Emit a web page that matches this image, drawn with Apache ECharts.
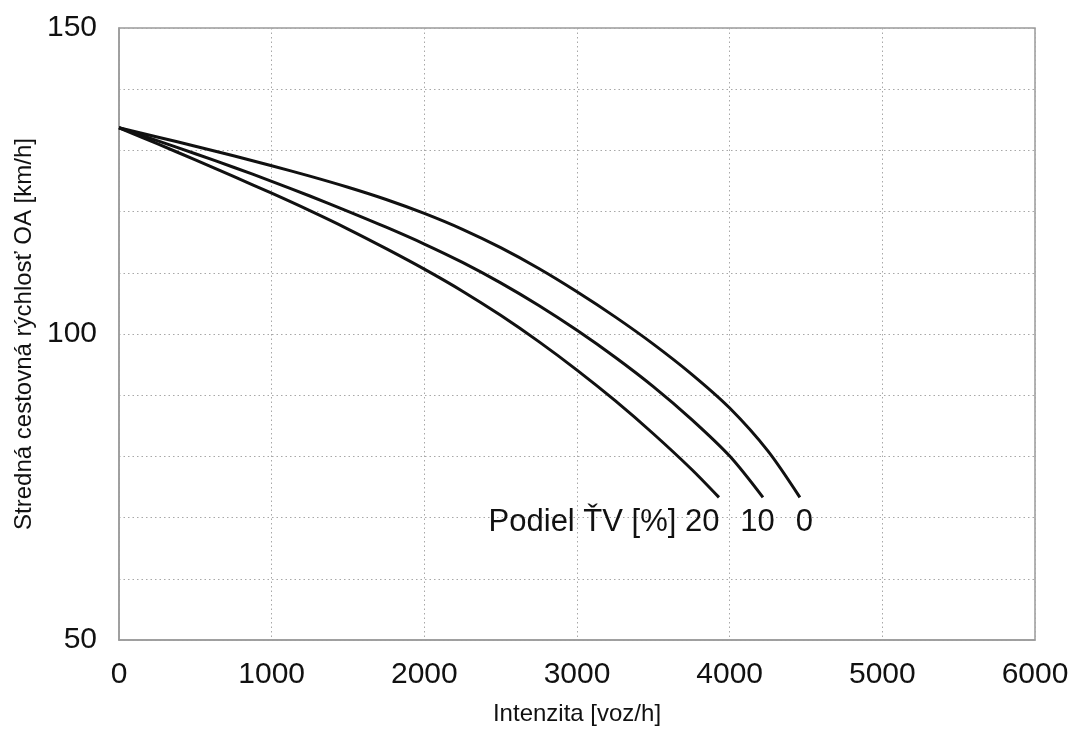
<!DOCTYPE html>
<html>
<head>
<meta charset="utf-8">
<script src="https://cdn.jsdelivr.net/npm/echarts@6.0.0/dist/echarts.min.js"></script>
<style>
html,body{margin:0;padding:0;background:#fff;}
#chart{width:1076px;height:731px;}
</style>
</head>
<body>
<div id="chart"></div>
<script>
// Data
var xTicks = [0, 1000, 2000, 3000, 4000, 5000, 6000];
var yTickLabels = [50, 100, 150];
var seriesNames = ['0', '10', '20'];
var curve0 = [[0,133.7],[250,132.2],[500,130.68],[750,129.12],[1000,127.5],[1250,125.8],[1500,123.98],[1750,121.98],[2000,119.7],[2250,117.1],[2500,114.1],[2750,110.7],[3000,106.9],[3250,102.8],[3500,98.35],[3750,93.45],[4000,87.9],[4250,80.9],[4460,73.3]];
var curve10 = [[0,133.7],[250,131.6],[500,129.45],[750,127.25],[1000,124.95],[1250,122.55],[1500,120.05],[1750,117.45],[2000,114.7],[2250,111.7],[2500,108.35],[2750,104.65],[3000,100.6],[3250,96.2],[3500,91.4],[3750,86.05],[4000,80.05],[4218,73.3]];
var curve20 = [[0,133.7],[250,131.1],[500,128.45],[750,125.75],[1000,123.0],[1250,120.15],[1500,117.15],[1750,113.95],[2000,110.6],[2250,107.0],[2500,103.05],[2750,98.75],[3000,94.1],[3250,89.1],[3500,83.7],[3750,77.9],[3930,73.3]];
var endLabels = ['0', '10', 'Podiel ŤV [%] 20'];

var FONT = '"Liberation Sans", Arial, Helvetica, sans-serif';
var chart = echarts.init(document.getElementById('chart'), null, {renderer: 'canvas'});

function withEndLabel(data, text, align, dx) {
  return data.map(function (p, i) {
    if (i !== data.length - 1) return p;
    return {
      value: p,
      label: {
        show: true,
        formatter: text,
        position: [dx, 10],
        align: align,
        verticalAlign: 'top',
        fontSize: 31,
        fontFamily: FONT,
        color: '#111',
        opacity: 1
      }
    };
  });
}

function lineSeries(name, data, text, align, dx) {
  return {
    name: name,
    type: 'line',
    data: withEndLabel(data, text, align, dx),
    smooth: 0.3,
    symbol: 'circle',
    symbolSize: 1,
    showSymbol: true,
    itemStyle: {color: 'rgba(0,0,0,0)', borderWidth: 0},
    lineStyle: {color: '#111', width: 3},
    emphasis: {disabled: true},
    animation: false,
    z: 3
  };
}

chart.setOption({
  animation: false,
  backgroundColor: '#ffffff',
  grid: {
    left: 119, right: 41, top: 28, bottom: 90,
    show: true, borderColor: '#9a9a9a', borderWidth: 1.5, backgroundColor: 'transparent'
  },
  xAxis: {
    type: 'value',
    min: 0, max: 6000, interval: 1000,
    name: 'Intenzita [voz/h]',
    nameLocation: 'middle',
    nameGap: 62,
    nameTextStyle: {fontSize: 24, fontFamily: FONT, color: '#111'},
    axisLine: {show: true, lineStyle: {color: '#9a9a9a', width: 1.5}},
    axisTick: {show: false},
    axisLabel: {
      margin: 20, fontSize: 30, fontFamily: FONT, color: '#111',
      formatter: function (v) { return xTicks.indexOf(v) >= 0 ? String(v) : ''; }
    },
    splitLine: {show: true, lineStyle: {color: '#a8a8a8', width: 1, type: [1.5, 3]}}
  },
  yAxis: {
    type: 'value',
    min: 50, max: 150, interval: 10,
    name: 'Stredná cestovná rýchlosť OA [km/h]',
    nameLocation: 'middle',
    nameGap: 83,
    nameTextStyle: {fontSize: 24, fontFamily: FONT, color: '#111'},
    axisLine: {show: true, lineStyle: {color: '#9a9a9a', width: 1.5}},
    axisTick: {show: false},
    axisLabel: {
      margin: 22, fontSize: 30, fontFamily: FONT, color: '#111',
      formatter: function (v) { return yTickLabels.indexOf(v) >= 0 ? String(v) : ''; }
    },
    splitLine: {show: true, lineStyle: {color: '#a8a8a8', width: 1, type: [1.5, 3]}}
  },
  series: [
    lineSeries(seriesNames[0], curve0, endLabels[0], 'center', 5),
    lineSeries(seriesNames[1], curve10, endLabels[1], 'center', -5),
    lineSeries(seriesNames[2], curve20, endLabels[2], 'right', 1)
  ]
});
</script>
</body>
</html>
